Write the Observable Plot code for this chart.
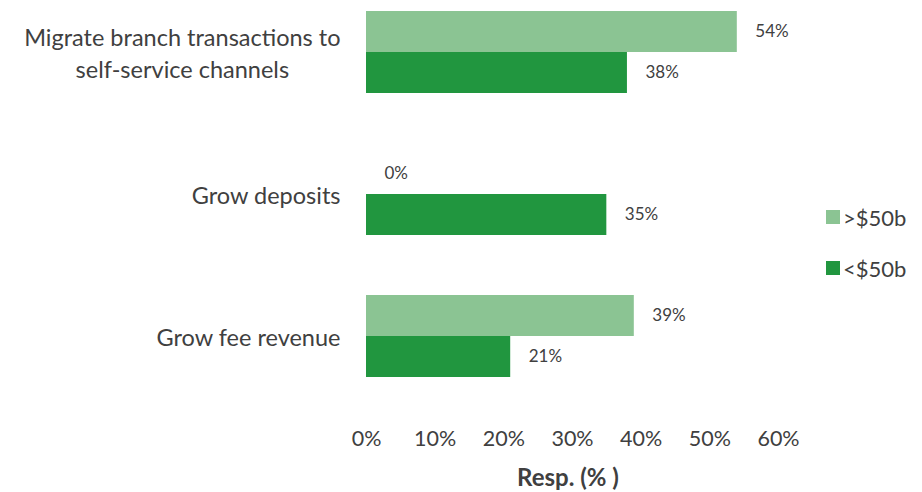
<!DOCTYPE html>
<html>
<head>
<meta charset="utf-8">
<script src="https://cdn.jsdelivr.net/npm/d3@7"></script>
<script src="https://cdn.jsdelivr.net/npm/@observablehq/plot@0.6"></script>
<style>
  html, body { margin: 0; padding: 0; background: #fff; }
  #wrap { position: relative; width: 922px; height: 492px; font-family: Lato, "Open Sans", sans-serif; color: #404040; }
  #caption { position: absolute; left: 366px; width: 404px; top: 462px; text-align: center; font-size: 24px; font-weight: bold; color: #404040; }
  #legend { position: absolute; left: 826px; top: 204px; }
  .item { display: flex; align-items: center; height: 26px; margin-bottom: 25px; font-size: 22px; }
  .sw { width: 14px; height: 14px; margin-right: 3px; }
</style>
</head>
<body>
<div id="wrap"></div>
<script>
const categories = ["Migrate branch transactions to\nself-service channels", "Grow deposits", "Grow fee revenue"];
const series = [">$50b", "<$50b"];
const over50b = [54, 0, 39];
const under50b = [38, 35, 21];
const xTicks = [0, 10, 20, 30, 40, 50, 60];
const colors = ["#8BC493", "#21963F"];
const axisTitle = "Resp. (% )";

const rows = [];
categories.forEach((c, i) => {
  rows.push({category: c, series: series[0], value: over50b[i]});
  rows.push({category: c, series: series[1], value: under50b[i]});
});

const chart = Plot.plot({
  width: 922,
  height: 462,
  marginLeft: 366,
  marginRight: 144,
  marginTop: 10,
  marginBottom: 84,
  style: {fontFamily: "Lato, 'Open Sans', sans-serif", color: "#404040", background: "#fff"},
  x: {domain: [0, 60]},
  fy: {domain: categories, paddingInner: 0.42, paddingOuter: 0},
  y: {domain: series, padding: 0, axis: null},
  color: {domain: series, range: colors},
  marks: [
    Plot.barX(rows, {x: "value", y: "series", fy: "category", fill: "series"}),
    Plot.text(rows, {x: "value", y: "series", fy: "category", text: d => d.value + "%", textAnchor: "start", dx: 18, fontSize: 17, fill: "#404040"}),
    Plot.axisX({ticks: xTicks, tickFormat: d => d + "%", tickSize: 0, tickPadding: 53, fontSize: 21.5, label: null}),
    Plot.axisFy({anchor: "left", tickSize: 0, tickPadding: 26, fontSize: 23.5, label: null, lineHeight: 1.4, dy: -1})
  ]
});

const wrap = document.getElementById("wrap");
wrap.appendChild(chart);

// center lines of multi-line category labels within their right-aligned block
d3.select(chart).selectAll("text").each(function() {
  const tspans = this.querySelectorAll("tspan");
  if (tspans.length > 1 && categories.some(c => c.includes("\n") && this.textContent.startsWith(c.split("\n")[0]))) {
    const w = this.getBBox().width;
    this.setAttribute("text-anchor", "middle");
    tspans.forEach(t => { t.setAttribute("dx", -w / 2); });
  }
});

const cap = document.createElement("div");
cap.id = "caption";
cap.textContent = axisTitle;
wrap.appendChild(cap);

const legend = document.createElement("div");
legend.id = "legend";
series.forEach((s, i) => {
  const item = document.createElement("div");
  item.className = "item";
  const sw = document.createElement("div");
  sw.className = "sw";
  sw.style.background = colors[i];
  const lab = document.createElement("span");
  lab.textContent = s;
  item.appendChild(sw);
  item.appendChild(lab);
  legend.appendChild(item);
});
wrap.appendChild(legend);
</script>
</body>
</html>
